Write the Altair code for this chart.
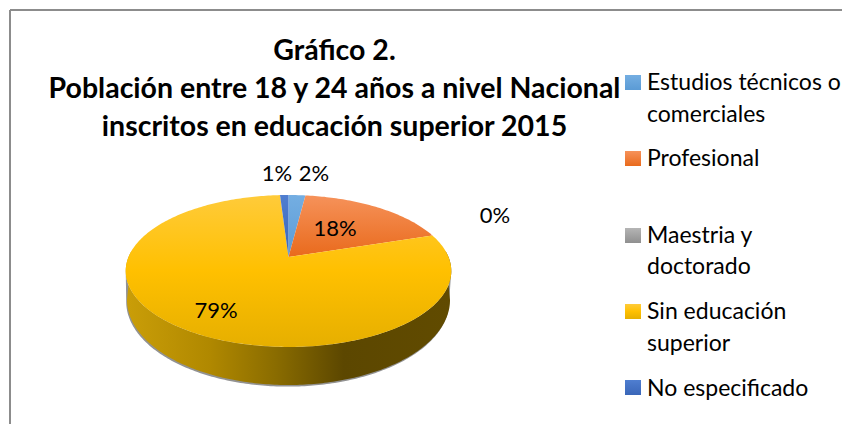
import math
import altair as alt
import pandas as pd

# --- data ---
categories = ["Estudios técnicos o comerciales", "Profesional", "Maestria y doctorado",
              "Sin educación superior", "No especificado"]
shares = [2, 18, 0, 79, 1]
title_lines = ["Gráfico 2.", "Población entre 18 y 24 años a nivel Nacional",
               "inscritos en educación superior 2015"]
legend_lines = [["Estudios técnicos o", "comerciales"], ["Profesional"],
                ["Maestria y", "doctorado"], ["Sin educación", "superior"], ["No especificado"]]
top_colors = [["#74AEE2", "#5B9BD5"], ["#F6925A", "#E96A1C"], ["#B5B5B5", "#8F8F8F"],
              ["#FFCB3A", "#FFC000", "#E6AF00"], ["#4F7ED0", "#3A66B8"]]
wall_stops = [(0, "#CA9E08"), (0.26, "#B08800"), (0.46, "#8A6C00"), (0.67, "#5C4700"), (1, "#614B00")]

# --- layout (page pixels minus 8px page margin) ---
W, H = 834, 416
OX, OY = 8, 8
CX, CY = 288.5 - OX, 257 - OY      # projected pie centre
BX, AY, K = 160.0, 73.4, 0.184     # perspective of the top disc
LCX, LCY, LRX, LRY = 288.5 - OX, 300 - OY, 161.5, 85.0  # lower rim of the wall


def rim(deg):
    t = math.radians(deg)
    s, c = math.sin(t), math.cos(t)
    d = 1 + K * c
    return [CX + BX * s / d, CY - AY * c / d]


def lower(deg, dx=0.0, dy=0.0):
    t = math.radians(deg)
    return [LCX + dx + LRX * math.sin(t), LCY + dy - LRY * math.cos(t)]


def geo(ring):
    ring = ring + [ring[0]]
    return alt.InlineData(values=[{"type": "Feature", "properties": {},
                                   "geometry": {"type": "Polygon", "coordinates": [ring]}}],
                          format=alt.DataFormat(type="json"))


def vgrad(cols):
    n = len(cols) - 1
    return alt.Gradient(gradient="linear", x1=0, y1=0, x2=0, y2=1,
                        stops=[alt.GradientStop(offset=i / n, color=c) for i, c in enumerate(cols)])


PROJ = {"type": "identity", "scale": 1, "translate": [0, 0]}
layers = []

# frame
layers.append(alt.Chart(pd.DataFrame({"a": [0]})).mark_rule(color="#8C8C8C", strokeWidth=2).encode(
    x=alt.value(10 - OX), x2=alt.value(W), y=alt.value(10 - OY)))
layers.append(alt.Chart(pd.DataFrame({"a": [0]})).mark_rule(color="#8C8C8C", strokeWidth=2).encode(
    x=alt.value(10 - OX), y=alt.value(10 - OY), y2=alt.value(H)))

# shadow of the wall
shadow = [rim(a) for a in range(100, 261)] + [lower(a, -0.8, 1.6) for a in range(270, 89, -1)]
layers.append(alt.Chart(geo(shadow)).mark_geoshape(fill="#6E6E6E", fillOpacity=0.75, stroke=None).project(**PROJ))

# wall of the disc
wall = [rim(a) for a in range(85, 276)] + [lower(a) for a in range(270, 89, -1)]
wall_fill = alt.Gradient(gradient="linear", x1=0, y1=0, x2=1, y2=0,
                         stops=[alt.GradientStop(offset=o, color=c) for o, c in wall_stops])
layers.append(alt.Chart(geo(wall)).mark_geoshape(fill=wall_fill, stroke=None).project(**PROJ))

# top slices
start = 0.0
for share, cols in zip(shares, top_colors):
    end = start + share * 3.6
    if share > 0:
        n = max(2, int(share * 3.6))
        ring = [[CX, CY]] + [rim(start + (end - start) * i / n) for i in range(n + 1)]
        layers.append(alt.Chart(geo(ring)).mark_geoshape(fill=vgrad(cols), stroke=None).project(**PROJ))
    start = end

# percentage labels
pct_x = [314, 335, 495, 216, 277]
pct_y = [174, 229, 216, 311, 174]
for share, px, py in zip(shares, pct_x, pct_y):
    layers.append(alt.Chart(pd.DataFrame({"t": [f"{share}%"]})).mark_text(
        font="Lato", fontSize=22, color="#000000", align="center", baseline="middle").encode(
        text="t:N", x=alt.value(px - OX), y=alt.value(py - OY)))

# title
title_y = [51, 89, 127]
for line, ty in zip(title_lines, title_y):
    layers.append(alt.Chart(pd.DataFrame({"t": [line]})).mark_text(
        font="Lato", fontSize=28.5, fontWeight="bold", color="#000000", align="center", baseline="middle").encode(
        text="t:N", x=alt.value(334.5 - OX), y=alt.value(ty - OY)))

# legend
sw_y = [75, 151, 228, 304, 380]
text_y = [[83, 115], [159], [236, 267], [312, 344], [389]]
for ys, lines, tys, cols in zip(sw_y, legend_lines, text_y, top_colors):
    layers.append(alt.Chart(pd.DataFrame({"a": [0]})).mark_rect(fill=vgrad(cols)).encode(
        x=alt.value(625 - OX), x2=alt.value(641 - OX), y=alt.value(ys - OY), y2=alt.value(ys + 15 - OY)))
    for line, ty in zip(lines, tys):
        layers.append(alt.Chart(pd.DataFrame({"t": [line]})).mark_text(
            font="Lato", fontSize=23, color="#000000", align="left", baseline="middle").encode(
            text="t:N", x=alt.value(647 - OX), y=alt.value(ty - OY)))

chart = alt.layer(*layers).properties(
    width=W, height=H, padding=0, background="#FFFFFF",
    autosize=alt.AutoSizeParams(type="none"),
).configure_view(stroke=None)

chart.save("out.html", embed_options={"renderer": "svg", "actions": False})
